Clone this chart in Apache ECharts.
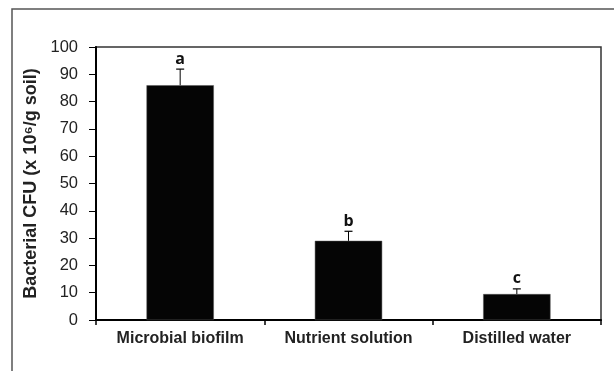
<!DOCTYPE html>
<html>
<head>
<meta charset="utf-8">
<script src="https://cdn.jsdelivr.net/npm/echarts@6/dist/echarts.min.js"></script>
<style>html,body{margin:0;padding:0;background:#fff}#c{width:614px;height:371px}</style>
</head>
<body>
<div id="c"></div>
<script>
const categories = ['Microbial biofilm', 'Nutrient solution', 'Distilled water'];
const means = [86, 29, 9.5];
const errors = [5.9, 3.5, 1.9];
const letters = ['a', 'b', 'c'];
const yTicks = [0, 10, 20, 30, 40, 50, 60, 70, 80, 90, 100];

const chart = echarts.init(document.getElementById('c'));
const errData = means.map((m, i) => [i, m, m + errors[i], letters[i]]);

chart.setOption({
  animation: false,
  grid: { left: 96, right: 13, top: 47, bottom: 51, show: true, borderColor: '#333', borderWidth: 1.5, backgroundColor: 'transparent' },
  graphic: [
    { type: 'polyline', shape: { points: [[12, 371], [12, 9], [614, 9]] }, style: { stroke: '#555', lineWidth: 1.5, fill: null } }
  ],
  xAxis: {
    type: 'category',
    data: categories,
    axisLine: { lineStyle: { color: '#000', width: 2 } },
    axisTick: { show: true, length: 5, lineStyle: { color: '#000', width: 1.5 } },
    axisLabel: { color: '#222', fontFamily: 'Liberation Sans', fontWeight: 'bold', fontSize: 16, margin: 11 }
  },
  yAxis: {
    type: 'value',
    min: yTicks[0], max: yTicks[yTicks.length - 1], interval: 10,
    name: 'Bacterial CFU (x 10\u2076/g soil)',
    nameLocation: 'middle', nameGap: 47,
    nameTextStyle: { color: '#222', fontFamily: 'Liberation Sans', fontWeight: 'bold', fontSize: 18 },
    axisLine: { show: true, lineStyle: { color: '#000', width: 2 } },
    axisTick: { show: true, length: 7, lineStyle: { color: '#000', width: 1 } },
    splitLine: { show: false },
    axisLabel: { color: '#222', fontFamily: 'Liberation Sans', fontSize: 16.5, margin: 18 }
  },
  series: [
    {
      type: 'bar', data: means, barCategoryGap: '60%',
      itemStyle: { color: '#050505', borderColor: '#555', borderWidth: 0.5 }
    },
    {
      type: 'custom', data: errData, z: 5,
      renderItem: function (params, api) {
        const x = api.coord([api.value(0), api.value(1)])[0];
        const y0 = api.coord([api.value(0), api.value(1)])[1];
        const y1 = api.coord([api.value(0), api.value(2)])[1];
        return {
          type: 'group',
          children: [
            { type: 'line', shape: { x1: x, y1: y0, x2: x, y2: y1 }, style: { stroke: '#000', lineWidth: 1 } },
            { type: 'line', shape: { x1: x - 4, y1: y1, x2: x + 4, y2: y1 }, style: { stroke: '#000', lineWidth: 1.2 } },
            { type: 'text', style: { x: x, y: y1 - 10, text: letters[params.dataIndex], align: 'center', verticalAlign: 'middle', fill: '#111', font: 'bold 16px "Open Sans"' } }
          ]
        };
      }
    }
  ]
});
</script>
</body>
</html>
